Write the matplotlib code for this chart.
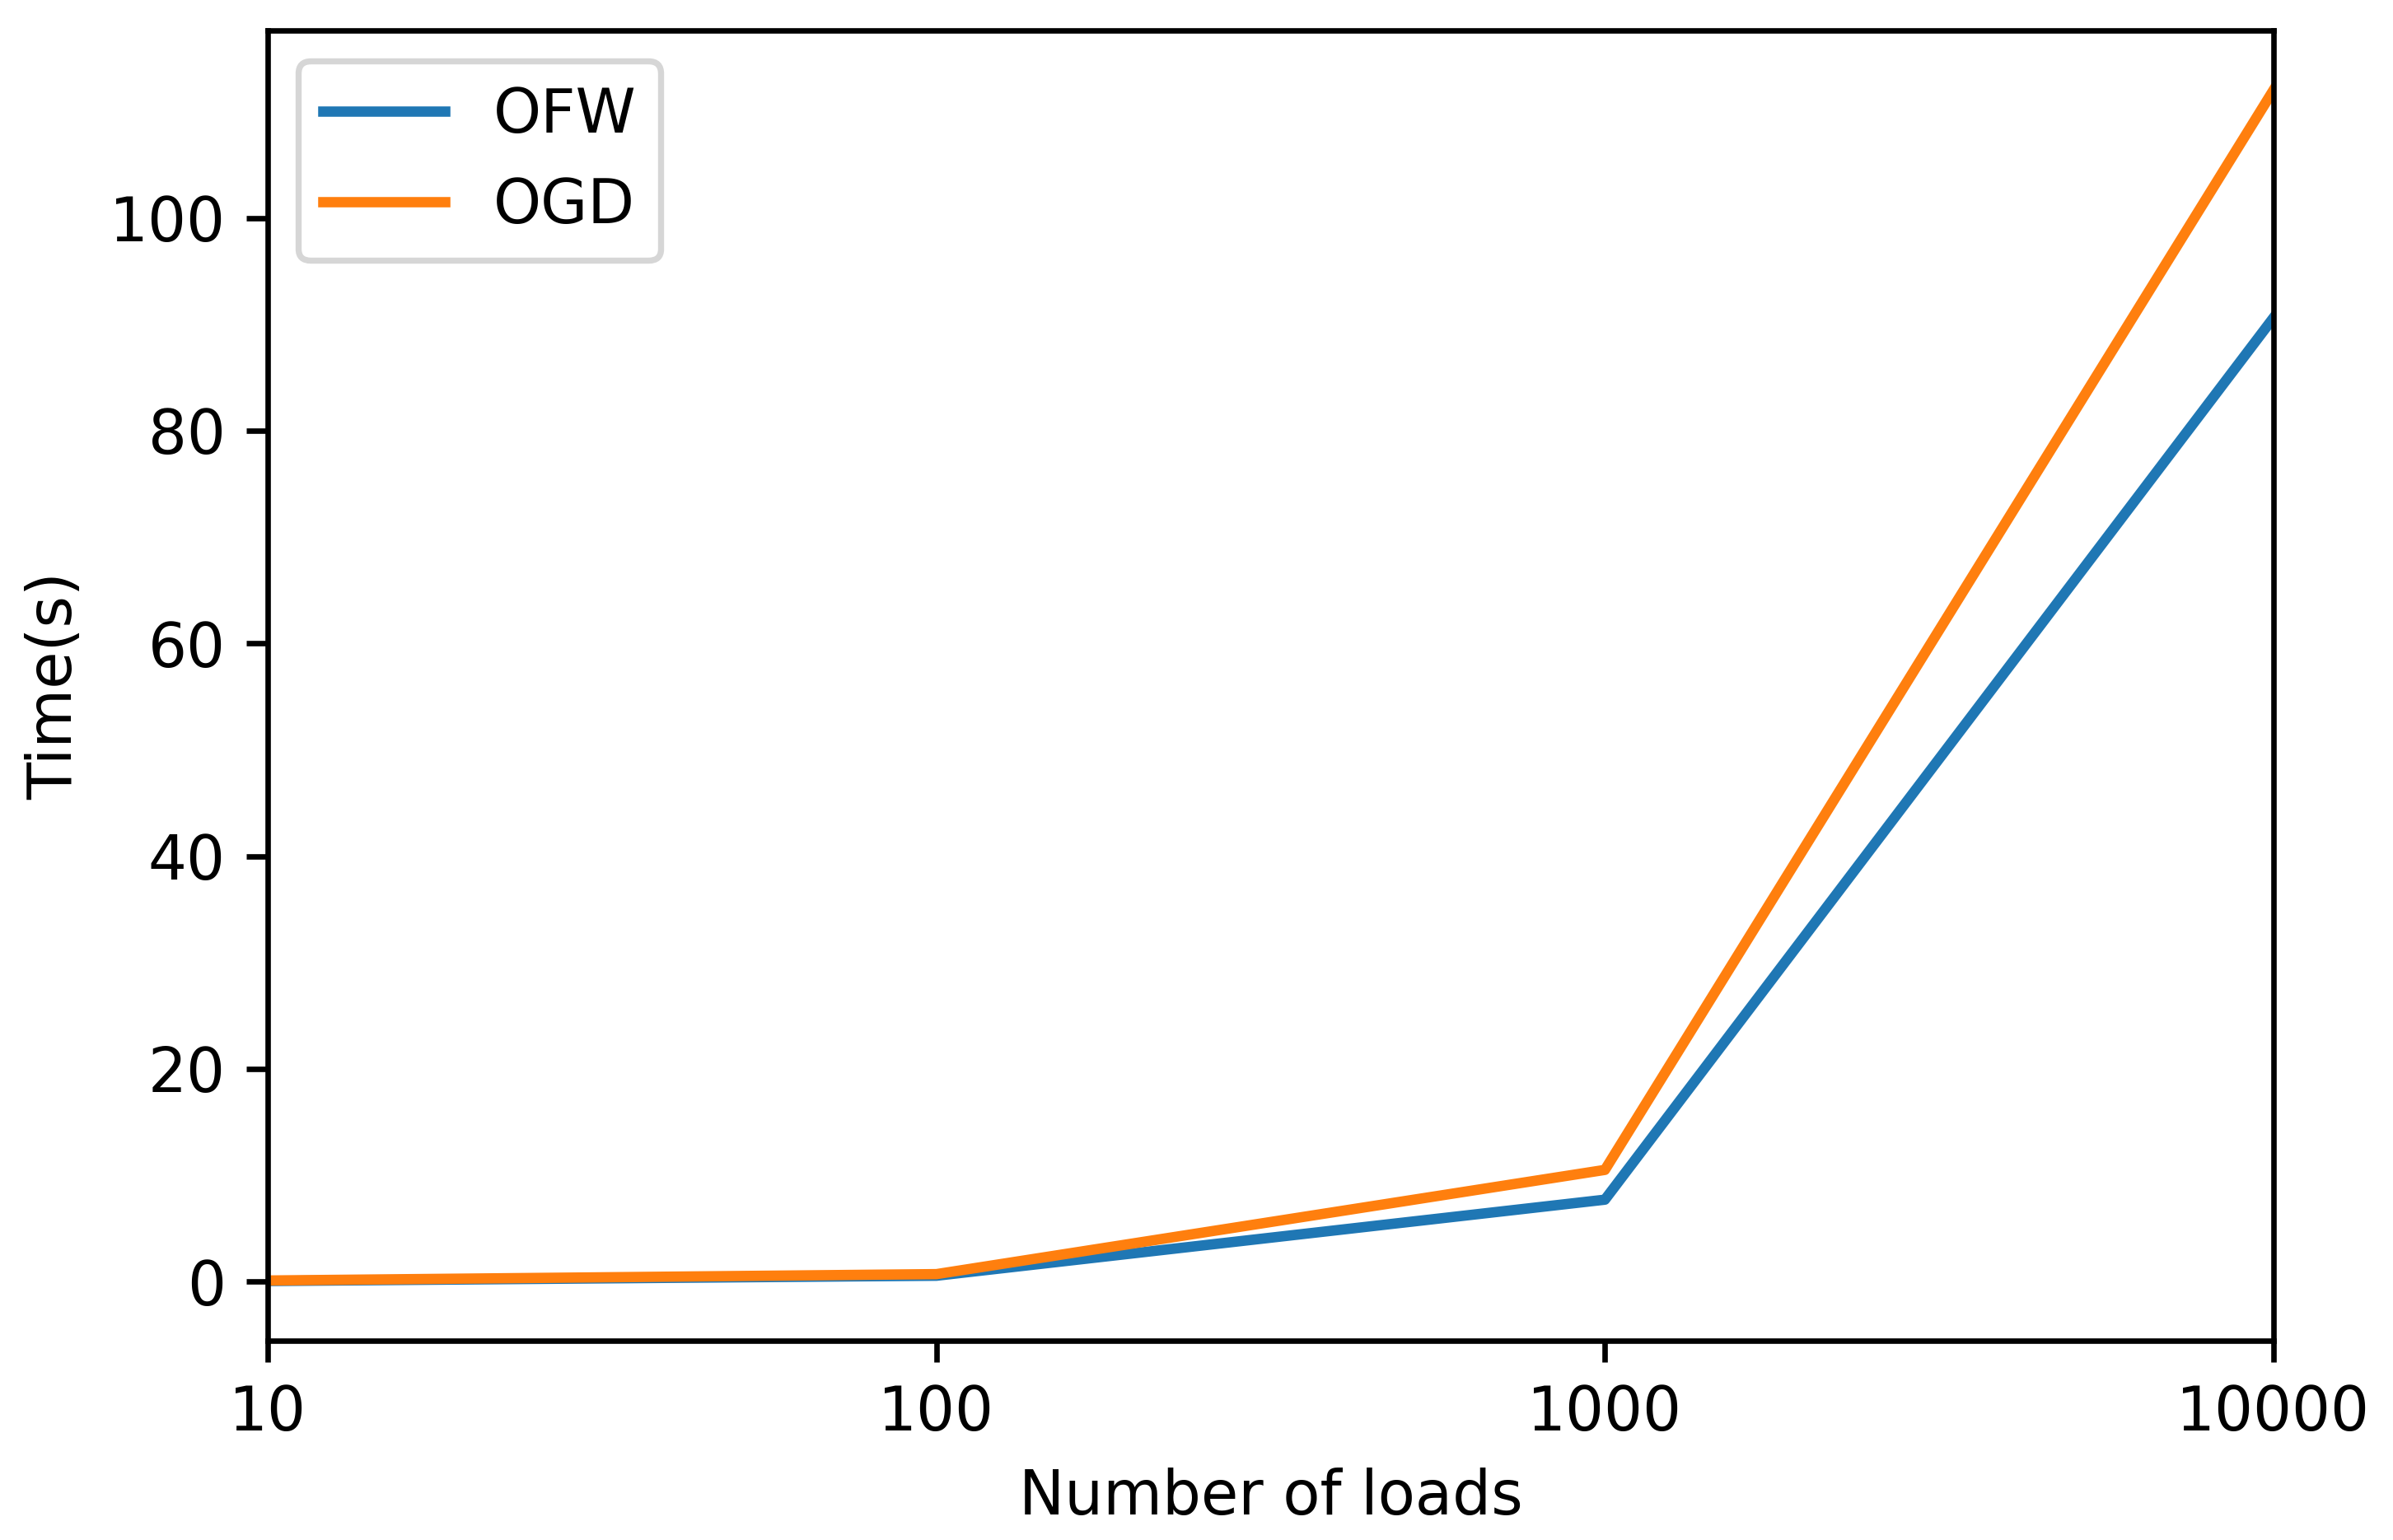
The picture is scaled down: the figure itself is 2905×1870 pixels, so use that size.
import matplotlib
matplotlib.use("Agg")
import matplotlib.pyplot as plt
from matplotlib.ticker import NullLocator

loads = [10, 100, 1000, 10000]
load_labels = ["10", "100", "1000", "10000"]
ofw_time = [0.05, 0.55, 7.7, 90.6]
ogd_time = [0.1, 0.7, 10.5, 112.0]

DPI = 532
plt.rcParams["axes.linewidth"] = 0.9
plt.rcParams["xtick.major.width"] = 0.9
plt.rcParams["ytick.major.width"] = 0.9
fig = plt.figure(figsize=(2905 / DPI, 1870 / DPI), dpi=DPI)
ax = fig.add_axes([0.112, 0.1295, 0.838, 0.8505])
ax.plot(loads, ofw_time, label="OFW", lw=1.7)
ax.plot(loads, ogd_time, label="OGD", lw=1.7)
ax.set_xscale("log")
ax.set_xlim(loads[0], loads[-1])
ax.set_xticks(loads)
ax.set_xticklabels(load_labels)
ax.xaxis.set_minor_locator(NullLocator())
ax.set_xlabel("Number of loads")
ax.set_ylabel("Time(s)")
ax.legend(loc="upper left")
fig.savefig("out.png", dpi=DPI)
